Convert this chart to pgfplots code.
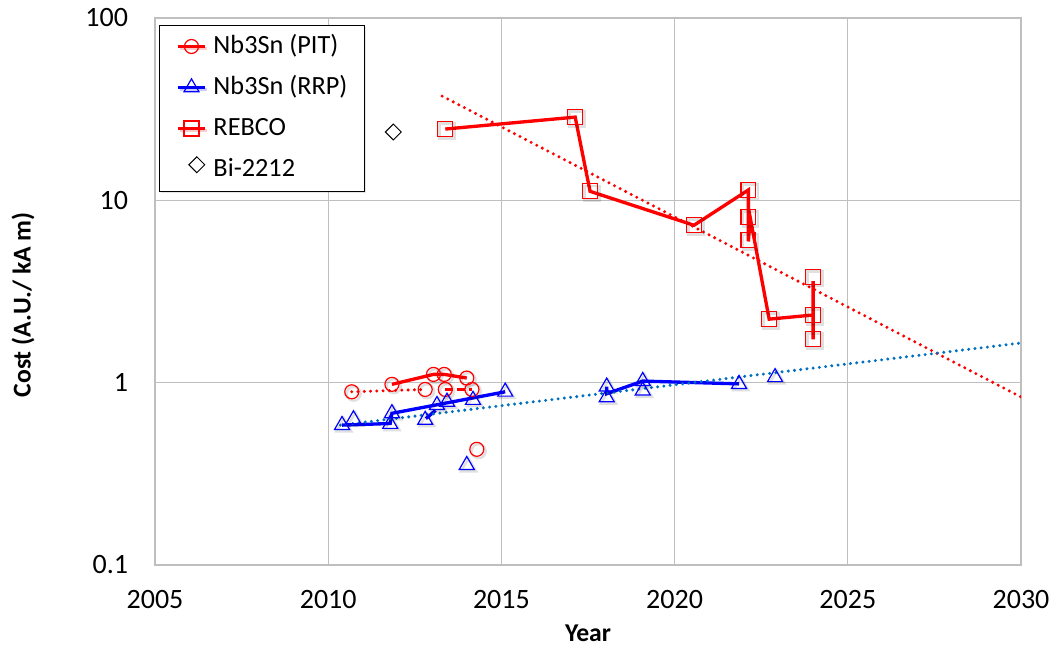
\documentclass[border=0pt]{standalone}
\usepackage{fontspec}
\setmainfont{Carlito}
\usepackage{pgfplots}
\pgfplotsset{compat=1.18}
\usetikzlibrary{shadows}
\definecolor{gridgray}{RGB}{191,191,191}
\definecolor{trendblue}{RGB}{0,112,192}
\begin{document}
\begin{tikzpicture}
\useasboundingbox (-116.25pt,-62.25pt) rectangle (671.25pt,423.75pt);
\begin{axis}[
  at={(0pt,0pt)}, anchor=south west,
  scale only axis, width=649.5pt, height=410.25pt,
  xmin=2005, xmax=2030, ymode=log, ymin=0.1, ymax=100,
  xtick={2005,2010,2015,2020,2025,2030},
  xticklabels={2005,2010,2015,2020,2025,2030},
  ytick={0.1,1,10,100}, yticklabels={0.1,1,10,100},
  minor ytick={},
  xmajorgrids, ymajorgrids,
  major grid style={draw=gridgray, line width=0.9pt},
  axis line style={draw=gridgray, line width=0.9pt},
  major tick length=0pt, minor tick length=0pt,
  tick style={draw=none},
  /pgf/number format/assume math mode=true,
  ticklabel style={font=\fontsize{21}{22}\selectfont},
  xticklabel style={anchor=north, inner sep=0pt, yshift=-18.5pt},
  yticklabel style={anchor=east, inner sep=0pt, xshift=-20pt},
  xlabel={\textbf{Year}}, ylabel={\textbf{Cost (A.U./ kA m)}},
  label style={font=\fontsize{19.25}{20}\selectfont\bfseries, inner sep=0pt},
  xlabel style={at={([yshift=-51pt]axis description cs:0.5,0)}, anchor=center},
  ylabel style={at={([xshift=-99pt,yshift=-10pt]axis description cs:0,0.5)}, anchor=center},
  legend image code/.code={\draw[mark repeat=2,mark phase=2,#1] plot coordinates {(0pt,0pt) (10pt,0pt) (20pt,0pt)};},
  legend cell align=left,
  legend style={at={(axis description cs:0,1)}, anchor=north west, xshift=3pt, yshift=-5.25pt,
    draw=black, line width=0.75pt, fill=white, inner xsep=12.75pt, inner ysep=6.25pt,
    drop shadow={shadow xshift=1.5pt, shadow yshift=-1.5pt, opacity=0.2},
    font=\fontsize{19.7}{21}\selectfont, row sep=11.75pt, column sep=5.25pt,
    nodes={inner sep=0pt, text height=14.5pt, text depth=4.5pt}},
  shadowmk/.style={forget plot, only marks, black, opacity=0.12, mark options={line width=1.8pt, xshift=1.4pt, yshift=-1.4pt}},
  dotline/.style={forget plot, line width=2.5pt, no marks, line cap=round, dash pattern=on 0pt off 4.7pt},
]
% legend images
\addlegendimage{red, line width=2.5pt, mark=o, mark size=5.25pt, mark options={line width=0.9pt, solid}}
\addlegendentry{Nb3Sn (PIT)}
\addlegendimage{blue, line width=2.5pt, mark=triangle, mark size=6.5pt, mark options={line width=0.9pt, solid}}
\addlegendentry{Nb3Sn (RRP)}
\addlegendimage{red, line width=2.5pt, mark=square, mark size=5.6pt, mark options={line width=0.9pt, solid}}
\addlegendentry{REBCO}
\addlegendimage{black, only marks, mark=square, mark size=4.2pt, mark options={line width=0.7pt, rotate=45, xshift=5.6pt}}
\addlegendentry{Bi-2212}

% ---- marker shadows ----
\addplot[shadowmk, mark=o, mark size=5.25pt] coordinates {
(2010.68,0.891) (2011.84,0.979) (2012.80,0.918) (2013.04,1.11) (2013.35,1.11) (2013.38,0.918) (2014.00,1.06) (2014.15,0.918) (2014.29,0.431)};
\addplot[shadowmk, mark=triangle, mark size=6.5pt] coordinates {
(2010.40,0.585) (2010.73,0.629) (2011.79,0.593) (2011.84,0.679) (2012.80,0.624) (2013.14,0.753) (2013.43,0.785) (2014.18,0.803) (2015.11,0.891) (2014.00,0.353)
(2018.04,0.95) (2018.04,0.83) (2019.08,1.02) (2019.08,0.904) (2021.86,0.982) (2022.90,1.07)};
\addplot[shadowmk, mark=square, mark size=5.6pt] coordinates {
(2013.38,24.6) (2017.13,28.6) (2017.56,11.2) (2020.56,7.3) (2022.13,11.4) (2022.13,8.1) (2022.13,6.05) (2022.73,2.23) (2024.00,2.35) (2024.00,3.8) (2024.00,1.73)};
\addplot[shadowmk, mark=square, mark size=4.2pt, mark options={rotate=45}] coordinates {(2011.88,23.7)};

% ---- lines ----
% PIT
\addplot[forget plot, red, line width=2.5pt, no marks] coordinates {(2011.84,0.979) (2013.04,1.11) (2013.35,1.11) (2014.00,1.06)};
\addplot[forget plot, red, line width=2.5pt, no marks, dash pattern=on 6pt off 3pt] coordinates {(2013.38,0.918) (2014.15,0.918)};
\addplot[dotline, red] coordinates {(2010.68,0.891) (2012.80,0.918)};
% RRP
\addplot[forget plot, blue, line width=2.5pt, no marks] coordinates {(2010.40,0.585) (2011.79,0.597) (2011.84,0.679) (2015.11,0.891)};
\addplot[forget plot, blue, line width=2.5pt, no marks] coordinates {(2012.82,0.635) (2013.10,0.705)};
\addplot[forget plot, blue, line width=2.5pt, no marks] coordinates {(2018.04,0.95) (2018.04,0.87) (2019.08,1.02) (2021.86,0.985)};
% REBCO
\addplot[forget plot, red, line width=2.5pt, no marks] coordinates {(2013.38,24.6) (2017.13,28.6) (2017.56,11.2) (2020.56,7.3) (2022.13,11.4) (2022.13,5.95) (2022.18,8.1) (2022.73,2.23) (2024.00,2.35) (2024.00,3.6) (2024.00,1.73)};
% trend lines
\addplot[dotline, red] coordinates {(2013.29,37.3) (2030,0.834)};
\addplot[dotline, trendblue] coordinates {(2010.35,0.585) (2030,1.65)};

% ---- markers ----
\addplot[forget plot, only marks, red, mark=o, mark size=5.25pt, mark options={line width=0.9pt}] coordinates {
(2010.68,0.891) (2011.84,0.979) (2012.80,0.918) (2013.04,1.11) (2013.35,1.11) (2013.38,0.918) (2014.00,1.06) (2014.15,0.918) (2014.29,0.431)};
\addplot[forget plot, only marks, blue, mark=triangle, mark size=6.5pt, mark options={line width=0.9pt}] coordinates {
(2010.40,0.585) (2010.73,0.629) (2011.79,0.593) (2011.84,0.679) (2012.80,0.624) (2013.14,0.753) (2013.43,0.785) (2014.18,0.803) (2015.11,0.891) (2014.00,0.353)
(2018.04,0.95) (2018.04,0.83) (2019.08,1.02) (2019.08,0.904) (2021.86,0.982) (2022.90,1.07)};
\addplot[forget plot, only marks, red, mark=square, mark size=5.6pt, mark options={line width=0.9pt}] coordinates {
(2013.38,24.6) (2017.13,28.6) (2017.56,11.2) (2020.56,7.3) (2022.13,11.4) (2022.13,8.1) (2022.13,6.05) (2022.73,2.23) (2024.00,2.35) (2024.00,3.8) (2024.00,1.73)};
\addplot[forget plot, only marks, black, mark=square, mark size=4.2pt, mark options={line width=0.7pt, rotate=45}] coordinates {(2011.88,23.7)};
\end{axis}
\end{tikzpicture}
\end{document}
